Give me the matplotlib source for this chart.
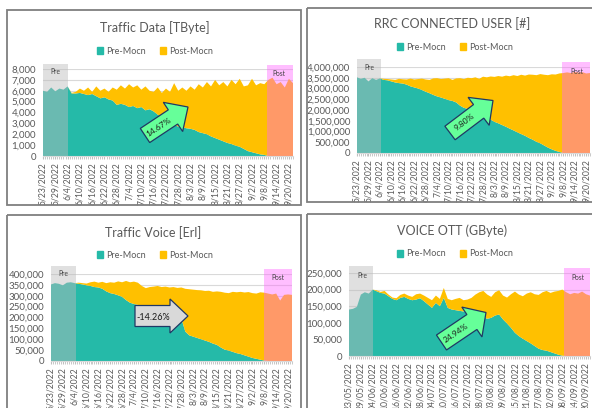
import matplotlib
matplotlib.use('Agg')
import matplotlib.pyplot as plt
import matplotlib.dates as mdates
from matplotlib.patches import Rectangle, FancyArrow, Patch
from matplotlib.ticker import FuncFormatter, MultipleLocator, FixedLocator
import pandas as pd
import numpy as np

plt.rcParams['font.family'] = ['Lato', 'DejaVu Sans']

W, H = 592, 408

# ---------------- data (one value every 2 days, 5/23/2022 .. 9/22/2022) ----------------
dates = pd.date_range('2022-05-23', '2022-09-22', freq='2D')

series_names = ['Pre-Mocn', 'Post-Mocn']

us_labels = ['5/23/2022', '5/29/2022', '6/4/2022', '6/10/2022', '6/16/2022', '6/22/2022',
             '6/28/2022', '7/4/2022', '7/10/2022', '7/16/2022', '7/22/2022', '7/28/2022',
             '8/3/2022', '8/9/2022', '8/15/2022', '8/21/2022', '8/27/2022', '9/2/2022',
             '9/8/2022', '9/14/2022', '9/20/2022']
eu_labels = ['23/05/2022', '29/05/2022', '04/06/2022', '10/06/2022', '16/06/2022', '22/06/2022',
             '28/06/2022', '04/07/2022', '10/07/2022', '16/07/2022', '22/07/2022', '28/07/2022',
             '03/08/2022', '09/08/2022', '15/08/2022', '21/08/2022', '27/08/2022', '02/09/2022',
             '08/09/2022', '14/09/2022', '20/09/2022']

# Traffic Data [TByte]
data_pre = [6000, 5900, 6300, 5950, 6200, 6100, 6400,
            5750, 5750, 5800, 5700, 5600, 5700, 5500, 5300, 5400, 5200, 5100, 4700, 4800, 4700,
            4500, 4600, 4400, 4500, 4200, 4300, 4100, 3800, 3600, 3300, 3100, 2900, 2700, 2650,
            2550, 2500, 2400, 2200, 2100, 2000, 1800, 1650, 1500, 1350, 1200, 1100, 950, 850,
            650, 450, 350, 250, 150, 100,
            0, 0, 0, 0, 0, 0, 0]
data_post = [0, 0, 0, 0, 0, 0, 0,
             50, 150, 400, 300, 700, 200, 900, 700, 800, 700, 1200, 1400, 1700, 1500,
             2100, 1700, 2100, 1600, 2200, 1700, 1800, 2500, 2200, 2900, 2800, 3800, 3300, 3650,
             3450, 3900, 3700, 4400, 4200, 4800, 4600, 5350, 5000, 5450, 5200, 5900, 5650, 6250,
             5750, 6050, 6750, 6250, 6550, 6500,
             7000, 7200, 6600, 6800, 6300, 7100, 6700]

# RRC CONNECTED USER [#] (thousands)
rrc_pre_k = [3520, 3450, 3500, 3330, 3480, 3400, 3470,
             3400, 3380, 3330, 3280, 3250, 3230, 3180, 3100, 3050, 3000, 2930, 2850, 2780, 2700,
             2630, 2580, 2520, 2460, 2420, 2350, 2200, 2100, 2050, 1980, 1900, 1830, 1750, 1650,
             1550, 1450, 1380, 1300, 1220, 1130, 1050, 960, 880, 800, 700, 620, 520, 450,
             350, 250, 170, 100, 50, 0,
             0, 0, 0, 0, 0, 0, 0]
rrc_post_k = [0, 0, 0, 0, 0, 0, 0,
              50, 60, 90, 120, 200, 200, 240, 360, 370, 440, 530, 570, 620, 770,
              850, 860, 940, 1020, 980, 1120, 1280, 1340, 1450, 1500, 1620, 1620, 1800, 1870,
              2010, 2090, 2200, 2250, 2380, 2440, 2570, 2620, 2760, 2800, 2950, 3020, 3100, 3220,
              3290, 3370, 3490, 3550, 3650, 3720,
              3750, 3720, 3770, 3740, 3760, 3700, 3720]

# Traffic Voice [Erl] (thousands)
voice_pre_k = [352, 358, 355, 348, 360, 362, 358,
               355, 352, 348, 345, 340, 338, 332, 320, 312, 308, 302, 295, 280, 268,
               262, 258, 255, 250, 246, 242, 238, 232, 226, 220, 214, 206, 195, 135,
               118, 112, 106, 100, 94, 88, 80, 74, 62, 52, 48, 42, 36, 32,
               26, 20, 14, 10, 6, 2,
               0, 0, 0, 0, 0, 0, 0]
voice_post_k = [0, 0, 0, 0, 0, 0, 0,
                5, 6, 8, 17, 25, 22, 32, 38, 50, 52, 64, 67, 88, 94,
                103, 102, 90, 85, 94, 100, 107, 108, 116, 118, 126, 130, 143, 197,
                212, 216, 220, 225, 228, 235, 238, 246, 256, 262, 264, 276, 280, 286,
                289, 297, 298, 300, 310, 312,
                310, 306, 310, 278, 304, 306, 304]

# VOICE OTT (GByte) (thousands)
ott_pre_k = [140, 142, 148, 185, 192, 188, 200,
             195, 190, 188, 180, 172, 168, 175, 178, 172, 168, 170, 174, 165, 155,
             145, 160, 150, 175, 145, 140, 138, 136, 134, 136, 132, 130, 128, 118,
             112, 115, 122, 125, 110, 98, 85, 70, 60, 52, 45, 38, 30, 22,
             18, 16, 12, 8, 4, 1,
             0, 0, 0, 0, 0, 0, 0]
ott_post_k = [0, 0, 0, 0, 0, 0, 0,
              3, 3, 8, 5, 4, 6, 9, 10, 10, 10, 16, 14, 17, 20,
              23, 22, 22, 30, 27, 28, 34, 39, 34, 34, 43, 55, 64, 78,
              73, 63, 70, 73, 72, 78, 101, 124, 125, 128, 143, 154, 156, 162,
              174, 180, 178, 186, 192, 199,
              192, 186, 190, 188, 194, 186, 182]

# arrow annotations (text)
arrow_texts = ['14.67%', '9.80%', '-14.26%', '24.94%']

# ---------------- styling ----------------
TEAL = '#25BAA8'
ORANGE = '#FFC000'
TXT = '#595959'
PRE_BOX = (188/255, 188/255, 188/255, 0.46)
POST_BOX = (1.0, 98/255, 1.0, 0.41)

x = mdates.date2num(dates.to_pydatetime())

panels = [
    dict(title='Traffic Data [TByte]', pre=np.array(data_pre, float), post=np.array(data_post, float),
         ymax=8000, step=1000, labels=us_labels, fmt='%m/%d/%Y',
         frame=(7, 10, 301, 205), plot=(43, 69, 293, 156), title_xy=(155, 28), legend_xy=(155, 51),
         pre_end='2022-06-04 00:00', post_start='2022-09-09 12:00', pre_top=64, post_top=65,
         pre_lbl=(55, 72), post_lbl=(279, 73)),
    dict(title='RRC CONNECTED USER [#]', pre=np.array(rrc_pre_k, float) * 1000,
         post=np.array(rrc_post_k, float) * 1000,
         ymax=4000000, step=500000, labels=us_labels, fmt='%m/%d/%Y',
         frame=(307, 8, 600, 202), plot=(357, 67, 590, 153), title_xy=(452, 24), legend_xy=(455, 47),
         pre_end='2022-06-04 14:00', post_start='2022-09-07 08:00', pre_top=59, post_top=62,
         pre_lbl=(369, 68), post_lbl=(577, 71)),
    dict(title='Traffic Voice [Erl]', pre=np.array(voice_pre_k, float) * 1000,
         post=np.array(voice_post_k, float) * 1000,
         ymax=400000, step=50000, labels=us_labels, fmt='%m/%d/%Y',
         frame=(7, 215, 301, 420), plot=(51, 274, 292, 361), title_xy=(153, 233), legend_xy=(155, 255),
         pre_end='2022-06-04 14:00', post_start='2022-09-07 14:00', pre_top=266, post_top=269,
         pre_lbl=(63, 274), post_lbl=(278, 278)),
    dict(title='VOICE OTT (GByte)', pre=np.array(ott_pre_k, float) * 1000,
         post=np.array(ott_post_k, float) * 1000,
         ymax=250000, step=50000, labels=eu_labels, fmt='%d/%m/%Y',
         frame=(307, 214, 600, 420), plot=(349, 273, 590, 356), title_xy=(452, 231), legend_xy=(455, 254),
         pre_end='2022-06-04 06:00', post_start='2022-09-08 22:00', pre_top=266, post_top=268,
         pre_lbl=(362, 275), post_lbl=(578, 278)),
]

fig = plt.figure(figsize=(W / 100, H / 100), dpi=100)
fig.patch.set_facecolor('white')

for p in panels:
    x0, y0, x1, y1 = p['plot']
    ax = fig.add_axes([x0 / W, 1 - y1 / H, (x1 - x0) / W, (y1 - y0) / H])
    ax.set_facecolor('none')
    ax.stackplot(x, p['pre'], p['post'], colors=[TEAL, ORANGE], linewidth=0, zorder=2)
    ax.set_xlim(x[0], x[-1])
    ax.set_ylim(0, p['ymax'])
    ax.yaxis.set_major_locator(MultipleLocator(p['step']))
    ax.yaxis.set_major_formatter(FuncFormatter(lambda v, pos: f'{v:,.0f}'))
    ax.grid(axis='y', color='#D9D9D9', lw=0.8, zorder=0)
    ax.set_axisbelow(True)
    for s in ['top', 'right', 'left']:
        ax.spines[s].set_visible(False)
    ax.spines['bottom'].set_color('#D9D9D9')
    tick_pos = mdates.date2num(pd.to_datetime(p['labels'], format=p['fmt']).to_pydatetime())
    ax.xaxis.set_major_locator(FixedLocator(tick_pos))
    ax.set_xticklabels(p['labels'], rotation=90)
    ax.xaxis.set_minor_locator(mdates.DayLocator())
    ax.tick_params(axis='x', which='both', length=2.5, color='#BFBFBF', labelsize=6.2, labelcolor=TXT, pad=2)
    ax.tick_params(axis='y', length=0, labelsize=7, labelcolor=TXT, pad=5)

    # pre / post shading boxes
    h = y1 - y0
    pre_frac = (y1 - p['pre_top']) / h
    post_frac = (y1 - p['post_top']) / h
    ax.axvspan(x[0], mdates.date2num(pd.Timestamp(p['pre_end']).to_pydatetime()),
               ymin=0, ymax=pre_frac, color=PRE_BOX, lw=0, clip_on=False, zorder=3)
    ax.axvspan(mdates.date2num(pd.Timestamp(p['post_start']).to_pydatetime()), x[-1],
               ymin=0, ymax=post_frac, color=POST_BOX, lw=0, clip_on=False, zorder=3)

    fig.legend(handles=[Patch(color=TEAL, label=series_names[0]), Patch(color=ORANGE, label=series_names[1])],
               loc='center', bbox_to_anchor=(p['legend_xy'][0] / W, 1 - p['legend_xy'][1] / H),
               ncol=2, frameon=False, fontsize=6.5, handlelength=0.7, handleheight=0.7,
               columnspacing=1.6, handletextpad=0.35, labelcolor=TXT)

# overlay in pixel coordinates
ov = fig.add_axes([0, 0, 1, 1], zorder=10)
ov.set_xlim(0, W)
ov.set_ylim(H, 0)
ov.axis('off')
ov.patch.set_alpha(0)

for p in panels:
    fx0, fy0, fx1, fy1 = p['frame']
    ov.add_patch(Rectangle((fx0, fy0), fx1 - fx0, fy1 - fy0, fill=False, ec='#7F7F7F', lw=1.3))
    ov.text(p['title_xy'][0], p['title_xy'][1], p['title'], ha='center', va='center',
            fontsize=9, color=TXT)
    ov.text(p['pre_lbl'][0], p['pre_lbl'][1], 'Pre', ha='center', va='center', fontsize=4.8, color='#404040')
    ov.text(p['post_lbl'][0], p['post_lbl'][1], 'Post', ha='center', va='center', fontsize=4.8, color='#404040')

GREEN = '#66FF99'
EDGE = '#203864'
# green arrows: (tail, tip, body width, head width, head length, text pos, text)
green_arrows = [((145, 135.5), (188, 107), 17, 35, 18, (159, 127), arrow_texts[0]),
                ((450, 133), (493, 100.5), 17, 35, 18, (464, 122), arrow_texts[1]),
                ((441.5, 342.5), (486, 312.5), 18, 36, 17, (456, 333), arrow_texts[3])]
for (tx, ty), (hx, hy), bw, hw, hl, (lx, ly), s in green_arrows:
    ov.add_patch(FancyArrow(tx, ty, hx - tx, hy - ty, width=bw, head_width=hw, head_length=hl,
                            length_includes_head=True, fc=GREEN, ec=EDGE, lw=0.9, zorder=5))
    ang = np.degrees(np.arctan2(ty - hy, hx - tx))
    ov.text(lx, ly, s, rotation=ang, rotation_mode='anchor', ha='center', va='center',
            fontsize=6, color='#1a1a1a', zorder=6)

# gray arrow
ov.add_patch(FancyArrow(135, 316, 53, 0, width=21, head_width=34, head_length=18,
                        length_includes_head=True, fc='#D9D9D9', ec=EDGE, lw=0.9, zorder=5))
ov.text(153, 317, arrow_texts[2], ha='center', va='center', fontsize=6.5, color='#1a1a1a', zorder=6)

fig.savefig('out.png', dpi=100, facecolor='white')
